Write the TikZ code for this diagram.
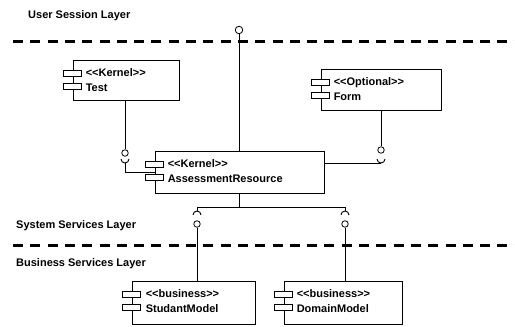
\documentclass[tikz,border=0pt]{standalone}
\usepackage{fontspec}
\newfontfamily\umlFont{Liberation Sans}
\begin{document}
\begin{tikzpicture}[x=1pt, y=1pt,
    font=\umlFont\bfseries\fontsize{11}{15}\selectfont,
    comp/.style={draw, line width=0.9pt, inner sep=0pt},
    compText/.style={anchor=north west, align=left, inner sep=0pt},
    layerText/.style={anchor=west, inner sep=0pt},
    ball/.style={circle, draw, fill=white, line width=0.8pt, inner sep=0pt, minimum size=6.5pt},
    wire/.style={line width=0.9pt},
    layerLine/.style={line width=3pt, dash pattern=on 10pt off 7.3pt}]

    \definecolor{lineColour}{HTML}{000000}

    % Page size
    \useasboundingbox (0,0) rectangle (515,327);

    % Layer separators
    \draw[layerLine, lineColour] (13,285) -- (515,285);
    \draw[layerLine, lineColour] (13,81) -- (515,81);

    % Layer labels
    \node[layerText] (userLbl) at (28,311) {User Session Layer};
    \node[layerText] (systemLbl) at (16,101) {System Services Layer};
    \node[layerText] (businessLbl) at (16,63) {Business Services Layer};

    % Components
    \node[comp, minimum width=106pt, minimum height=40pt] (test) at (126,247) {};
    \node[comp, minimum width=120pt, minimum height=41pt] (form) at (381,237.5) {};
    \node[comp, minimum width=169pt, minimum height=42pt] (ar) at (239.5,155) {};
    \node[comp, minimum width=123pt, minimum height=43pt] (stud) at (193.5,24.5) {};
    \node[comp, minimum width=118pt, minimum height=43pt] (dom) at (343,24.5) {};

    % Component icons
    \foreach \c in {test,form,ar,stud,dom} {
        \draw[line width=0.8pt, fill=white] ([xshift=-9pt,yshift=-10.5pt]\c.north west) rectangle ([xshift=9pt,yshift=-16.5pt]\c.north west);
        \draw[line width=0.8pt, fill=white] ([xshift=-9pt,yshift=-24pt]\c.north west) rectangle ([xshift=9pt,yshift=-30pt]\c.north west);
    }

    % Component texts
    \node[compText] (testText) at ([xshift=13pt,yshift=-8.5pt]test.north west) {<<Kernel>>\\Test};
    \node[compText] (formText) at ([xshift=13pt,yshift=-8.5pt]form.north west) {<<Optional>>\\Form};
    \node[compText] (arText) at ([xshift=13pt,yshift=-8.5pt]ar.north west) {<<Kernel>>\\AssessmentResource};
    \node[compText] (studText) at ([xshift=14pt,yshift=-8.5pt]stud.north west) {<<business>>\\StudantModel};
    \node[compText] (domText) at ([xshift=13pt,yshift=-8.5pt]dom.north west) {<<business>>\\DomainModel};

    % Provided interfaces (balls)
    \node[ball, minimum size=7.5pt] (topBall) at (239,297) {};
    \node[ball] (testBall) at (125,174) {};
    \node[ball] (formBall) at (381,177) {};
    \node[ball] (studBall) at (197,103) {};
    \node[ball] (domBall) at (345,103) {};

    % Required interfaces (sockets)
    \coordinate (testSock) at (125,164);
    \coordinate (formSock) at (381,164);
    \coordinate (studSock) at (197,116);
    \coordinate (domSock) at (345,116);
    \coordinate (fork) at ([yshift=-14pt]ar.south);

    \draw[wire] ([xshift=-4pt,yshift=4pt]testSock) arc (180:360:4pt);
    \draw[wire] ([xshift=-4pt,yshift=4pt]formSock) arc (180:360:4pt);
    \draw[wire] ([xshift=-4pt,yshift=-4pt]studSock) arc (180:0:4pt);
    \draw[wire] ([xshift=-4pt,yshift=-4pt]domSock) arc (180:0:4pt);

    % Connectors
    \draw[wire] (topBall) -- (topBall |- ar.north);
    \draw[wire] (testBall) -- (testBall |- test.south);
    \draw[wire] (testSock) |- (ar.west);
    \draw[wire] (formBall) -- (formBall |- form.south);
    \draw[wire] ([yshift=9pt]ar.east) -- (formSock);
    \draw[wire] (ar.south) -- (fork);
    \draw[wire] (studSock) -- (studSock |- fork) -- (domSock |- fork) -- (domSock);
    \draw[wire] (studBall) -- (studBall |- stud.north);
    \draw[wire] (domBall) -- (domBall |- dom.north);

\end{tikzpicture}
\end{document}
